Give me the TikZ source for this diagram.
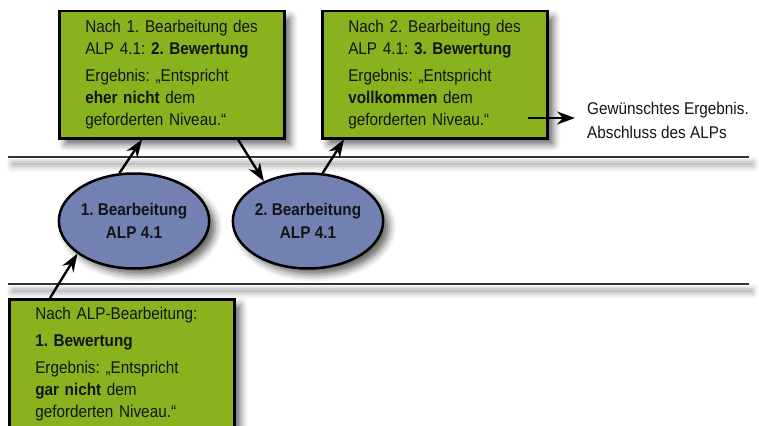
\documentclass[tikz,border=0pt]{standalone}
\usepackage{fontspec}
\setmainfont{Liberation Sans}[FakeStretch=0.9]
\frenchspacing
\usetikzlibrary{shapes,arrows.meta,shadows.blur}
\definecolor{alp_green}{RGB}{138,178,30}
\definecolor{alp_blue}{RGB}{114,129,178}
\definecolor{alp_text}{RGB}{20,20,20}
\tikzstyle{box}=[rectangle,fill=alp_green,draw=black,line width=2.5pt,anchor=north west,
  text width=173pt,inner xsep=26pt,inner ysep=0pt,minimum height=127pt,align=left,
  text=alp_text,font=\fontsize{17}{22}\selectfont,
  blur shadow={shadow xshift=6pt,shadow yshift=-6pt,shadow blur radius=7pt,shadow opacity=60}]
\tikzstyle{bear}=[ellipse,fill=alp_blue,draw=black,line width=2.5pt,
  minimum width=144pt,minimum height=95pt,inner sep=0pt,align=center,
  text=alp_text,font=\fontsize{17}{23}\selectfont\bfseries,
  blur shadow={shadow xshift=6pt,shadow yshift=-6pt,shadow blur radius=7pt,shadow opacity=60}]
\tikzstyle{pfeil}=[-{Stealth[length=18pt,width=13pt]},line width=2.4pt]
\tikzstyle{trenn}=[line width=1.6pt,draw=black!80]
\tikzstyle{trennschatten}=[fill=white,
  blur shadow={shadow xshift=4pt,shadow yshift=-7pt,shadow blur radius=6pt,shadow opacity=35}]

\begin{document}
\begin{tikzpicture}[x=1pt,y=-1pt]
    \useasboundingbox (0,0) rectangle (759,425);
    \clip (0,0) rectangle (759,425);
    \path[trennschatten] (8,155) rectangle (749,159);
    \path[trennschatten] (8,282) rectangle (749,286);
    \draw[trenn] (8,157) -- (749,157);
    \draw[trenn] (8,284) -- (749,284);
    \node [box] (b1) at (58,10) {Nach 1. Bearbeitung des\\ALP 4.1: \textbf{2. Bewertung}\\[5pt]Ergebnis: „Entspricht\\\textbf{eher nicht} dem\\geforderten Niveau.“};
    \node [box] (b2) at (321,10) {Nach 2. Bearbeitung des\\ALP 4.1: \textbf{3. Bewertung}\\[5pt]Ergebnis: „Entspricht\\\textbf{vollkommen} dem\\geforderten Niveau.“};
    \node [box,minimum height=129pt] (b0) at (8,298) {Nach ALP-Bearbeitung:\\[5pt]\textbf{1. Bewertung}\\[5pt]Ergebnis: „Entspricht\\\textbf{gar nicht} dem\\geforderten Niveau.“};
    \node [bear] (e1) at (134,221) {1. Bearbeitung\\ALP 4.1};
    \node [bear] (e2) at (308,221) {2. Bearbeitung\\ALP 4.1};
    \node [anchor=west,align=left,inner xsep=12pt,text=alp_text,
      font=\fontsize{17}{24}\selectfont] (ziel) at (575,120) {Gewünschtes Ergebnis.\\Abschluss des ALPs};
    \coordinate (zs) at (528,118);
    \draw [pfeil] ([xshift=42pt]b0.north west) to (e1.210);
    \draw [pfeil] (e1.107) to ([xshift=84pt]b1.south west);
    \draw [pfeil] ([xshift=180pt]b1.south west) to (e2.138);
    \draw [pfeil] (e2.73) to ([xshift=23pt]b2.south west);
    \draw [pfeil] (zs) to (zs -| ziel.west);
\end{tikzpicture}
\end{document}
